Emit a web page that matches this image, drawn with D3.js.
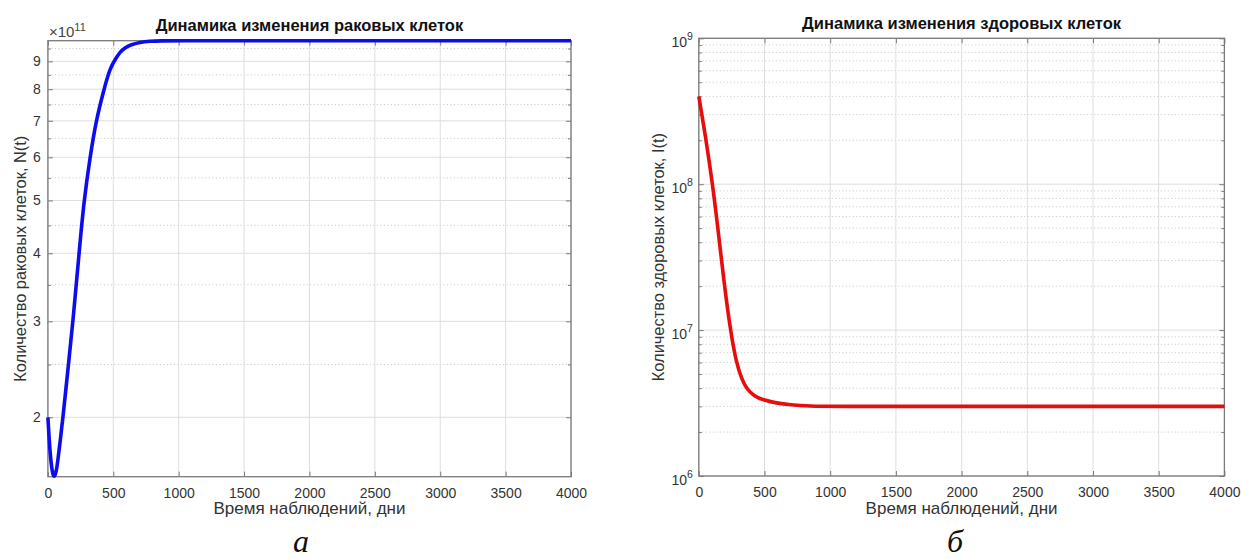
<!DOCTYPE html>
<html><head><meta charset="utf-8">
<script src="https://cdn.jsdelivr.net/npm/d3@7/dist/d3.min.js"></script>
<style>body{margin:0;background:#fff}svg{display:block}</style></head>
<body>
<svg id="c" width="1241" height="559"></svg>
<script>
// ---- data ----
const xTicks = [0, 500, 1000, 1500, 2000, 2500, 3000, 3500, 4000];

const cancerDays  = [0, 10, 20, 30, 40, 47, 55, 65, 75, 95, 115, 135, 157, 192, 238, 276, 322, 368, 429, 475, 521, 551, 590, 628, 704, 780, 857, 1000, 1500, 2500, 4000];
const cancerCells = [2.0e11, 1.817e11, 1.69e11, 1.608e11, 1.565e11, 1.556e11, 1.564e11, 1.597e11, 1.657e11, 1.817e11, 2.0e11, 2.22e11, 2.5e11, 3.0e11, 4.0e11, 5.0e11, 6.0e11, 7.0e11, 8.0e11, 8.75e11, 9.12e11, 9.36e11, 9.53e11, 9.64e11, 9.76e11, 9.8e11, 9.815e11, 9.82e11, 9.82e11, 9.82e11, 9.82e11];
const cancerYTicks = [2e11, 3e11, 4e11, 5e11, 6e11, 7e11, 8e11, 9e11];
const cancerYMinor = [2.5e11, 3.5e11, 4.5e11, 5.5e11, 6.5e11, 7.5e11, 8.5e11, 9.5e11];

const healthyDays  = [0, 50, 105, 150, 190, 240, 286, 330, 362, 420, 489, 590, 692, 850, 1000, 2000, 4000];
const healthyCells = [4.0e8, 2.17e8, 1.0e8, 4.6e7, 2.2e7, 1.0e7, 5.9e6, 4.55e6, 3.99e6, 3.53e6, 3.32e6, 3.16e6, 3.07e6, 3.01e6, 3.0e6, 3.0e6, 3.0e6];
const healthyYTicks = [1e6, 1e7, 1e8, 1e9];
const healthyYMinor = [2,3,4,5,6,7,8,9].flatMap(m => [1e6, 1e7, 1e8].map(d => m * d));

const titles = ["Динамика изменения раковых клеток", "Динамика изменения здоровых клеток"];
const yLabels = ["Количество раковых клеток, N(t)", "Количество здоровых клеток, I(t)"];
const xLabel = "Время наблюдений, дни";
const panelLetters = ["а", "б"];

// ---- drawing ----
const svg = d3.select("#c");
const FONT = "'Liberation Sans', Arial, sans-serif";
const AXIS = "#7a7a7a", TXT = "#333", GRID = "#dedede", MINOR = "#c4c4c4";

function panel(o) {
  const g = svg.append("g");
  const x = d3.scaleLinear().domain([0, 4000]).range([o.left, o.right]);
  const y = d3.scaleLog().domain(o.yDomain).range([o.bottom, o.top]);
  const minorIn = o.minor.filter(v => v > o.yDomain[0] && v < o.yDomain[1]);

  // minor grid
  g.selectAll(".mg").data(minorIn).join("line")
    .attr("x1", o.left).attr("x2", o.right).attr("y1", d => y(d)).attr("y2", d => y(d))
    .attr("stroke", MINOR).attr("stroke-width", 1).attr("stroke-dasharray", "1,2.5");
  // major grid
  g.selectAll(".gx").data(xTicks).join("line")
    .attr("x1", d => x(d)).attr("x2", d => x(d)).attr("y1", o.top).attr("y2", o.bottom)
    .attr("stroke", GRID).attr("stroke-width", 1);
  g.selectAll(".gy").data(o.major).join("line")
    .attr("x1", o.left).attr("x2", o.right).attr("y1", d => y(d)).attr("y2", d => y(d))
    .attr("stroke", GRID).attr("stroke-width", 1);

  // axes with inward ticks
  const ab = g.append("g").attr("transform", `translate(0,${o.bottom})`)
    .call(d3.axisBottom(x).tickValues(xTicks).tickSizeInner(-5).tickSizeOuter(0).tickPadding(11).tickFormat(d3.format("d")));
  g.append("g").attr("transform", `translate(0,${o.top})`)
    .call(d3.axisTop(x).tickValues(xTicks).tickSizeInner(-5).tickSizeOuter(0).tickFormat(""));
  g.append("g").attr("transform", `translate(${o.left},0)`)
    .call(d3.axisLeft(y).tickValues(o.major).tickSizeInner(-5).tickSizeOuter(0).tickFormat(""));
  g.append("g").attr("transform", `translate(${o.right},0)`)
    .call(d3.axisRight(y).tickValues(o.major).tickSizeInner(-5).tickSizeOuter(0).tickFormat(""));
  g.append("g").attr("transform", `translate(${o.left},0)`)
    .call(d3.axisLeft(y).tickValues(minorIn).tickSizeInner(-3).tickSizeOuter(0).tickFormat(""));
  g.append("g").attr("transform", `translate(${o.right},0)`)
    .call(d3.axisRight(y).tickValues(minorIn).tickSizeInner(-3).tickSizeOuter(0).tickFormat(""));
  g.selectAll(".domain").remove();
  g.selectAll(".tick line").attr("stroke", AXIS).attr("stroke-width", 1);
  ab.selectAll(".tick text").attr("fill", TXT).attr("font-size", 14).attr("font-family", FONT);

  // y tick labels
  const lab = g.append("g");
  o.major.forEach(v => {
    const t = lab.append("text").attr("x", o.left - 7).attr("text-anchor", "end")
      .attr("fill", TXT).attr("font-size", 14).attr("font-family", FONT);
    if (o.pow) {
      t.attr("y", y(v) + 8.5).attr("x", o.left - 6);
      t.append("tspan").text("10");
      t.append("tspan").attr("dy", -7).attr("font-size", 10.5).text(Math.round(Math.log10(v)));
    } else {
      t.attr("y", y(v) + 5).text(Math.round(v / 1e11));
    }
  });
  if (!o.pow) {
    const e = g.append("text").attr("x", o.left + 1).attr("y", o.top - 4)
      .attr("fill", "#444").attr("font-size", 15).attr("font-family", FONT);
    e.append("tspan").text("×10");
    e.append("tspan").attr("dy", -6).attr("font-size", 11).text("11");
  }

  // box
  g.append("rect").attr("x", o.left).attr("y", o.top).attr("width", o.right - o.left).attr("height", o.bottom - o.top)
    .attr("fill", "none").attr("stroke", AXIS).attr("stroke-width", 1.3);

  // curve
  const line = d3.line().x(d => x(d[0])).y(d => y(d[1])).curve(d3.curveBasis);
  g.append("path").datum(o.days.map((d, i) => [d, o.vals[i]])).attr("d", line)
    .attr("fill", "none").attr("stroke", o.color).attr("stroke-width", 3.6).attr("stroke-linejoin", "round");

  // texts
  const cx = (o.left + o.right) / 2;
  g.append("text").attr("x", cx).attr("y", o.titleY).attr("text-anchor", "middle")
    .attr("font-weight", "bold").attr("font-size", 16.5).attr("font-family", FONT).attr("fill", "#111").text(o.title);
  g.append("text").attr("x", cx).attr("y", 514).attr("text-anchor", "middle")
    .attr("font-size", 17).attr("font-family", FONT).attr("fill", TXT).text(xLabel);
  g.append("text").attr("transform", `translate(${o.ylabX},${(o.top + o.bottom) / 2}) rotate(-90)`).attr("text-anchor", "middle")
    .attr("font-size", 16.4).attr("font-family", FONT).attr("fill", TXT).text(o.ylabel);
  g.append("text").attr("x", o.letterX).attr("y", 552).attr("text-anchor", "middle")
    .attr("font-size", 32).attr("font-style", "italic").attr("font-family", "'Liberation Serif', 'DejaVu Serif', serif")
    .attr("fill", "#111").text(o.letter);
}

panel({left: 47.9, right: 571, top: 40.7, bottom: 476.7, yDomain: [1.556e11, 9.82e11],
  major: cancerYTicks, minor: cancerYMinor, pow: false, days: cancerDays, vals: cancerCells,
  color: "#0c0cf0", title: titles[0], ylabel: yLabels[0], titleY: 30.5, ylabX: 26, letter: panelLetters[0], letterX: 301});
panel({left: 698.8, right: 1224.4, top: 38.3, bottom: 476, yDomain: [1e6, 1e9],
  major: healthyYTicks, minor: healthyYMinor, pow: true, days: healthyDays, vals: healthyCells,
  color: "#e60d0d", title: titles[1], ylabel: yLabels[1], titleY: 28.5, ylabX: 664, letter: panelLetters[1], letterX: 955});
</script>
</body></html>
